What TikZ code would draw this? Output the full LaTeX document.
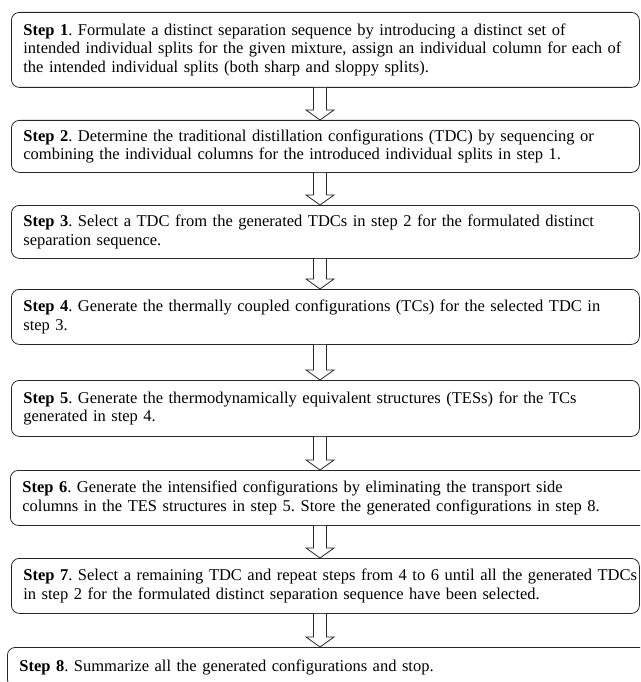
\documentclass[tikz,border=0pt]{standalone}
\usepackage{fontspec}
\setmainfont{Liberation Serif}
\usepackage{tikz}
\usetikzlibrary{calc}
\frenchspacing

% hollow block arrow from the bottom of one step to the top of the next
\newcommand{\steparrow}[2]{%
    \draw[harrow] ($(#1.south -| axis)+(-6.5,0)$) -- ($(#2.north -| axis)+(-6.5,-10)$)
        -- ($(#2.north -| axis)+(-14,-10)$) -- (#2.north -| axis)
        -- ($(#2.north -| axis)+(14,-10)$) -- ($(#2.north -| axis)+(6.5,-10)$)
        -- ($(#1.south -| axis)+(6.5,0)$);}

\begin{document}
\begin{tikzpicture}[
    x=1pt, y=-1pt,
    every node/.style={font=\fontsize{16.5}{18.5}\selectfont},
    stepbox/.style={draw=black!85, line width=0.8pt, rounded corners=8pt,
                    anchor=north west, align=left, text width=604pt,
                    inner xsep=12pt, inner ysep=0pt},
    harrow/.style={draw=black!85, line width=0.8pt, fill=white, line join=miter}
]
    \useasboundingbox (0,0) rectangle (640,682);
    \clip (0,0) rectangle (640,682);
    \coordinate (axis) at (320,0);

    % Steps
    \node[stepbox, minimum height=75pt] (s1) at (11,12)
        {\textbf{Step 1}. Formulate a distinct separation sequence by introducing a distinct set of\\
         intended individual splits for the given mixture, assign an individual column for each of\\
         the intended individual splits (both sharp and sloppy splits).};
    \node[stepbox, minimum height=52pt] (s2) at (11,120)
        {\textbf{Step 2}. Determine the traditional distillation configurations (TDC) by sequencing or\\
         combining the individual columns for the introduced individual splits in step 1.};
    \node[stepbox, minimum height=53pt] (s3) at (11,205)
        {\textbf{Step 3}. Select a TDC from the generated TDCs in step 2 for the formulated distinct\\
         separation sequence.};
    \node[stepbox, minimum height=55pt] (s4) at (11,289)
        {\textbf{Step 4}. Generate the thermally coupled configurations (TCs) for the selected TDC in\\
         step 3.};
    \node[stepbox, minimum height=56pt] (s5) at (11,380)
        {\textbf{Step 5}. Generate the thermodynamically equivalent structures (TESs) for the TCs\\
         generated in step 4.};
    \node[stepbox, minimum height=55pt, text width=616pt] (s6) at (10,470)
        {\textbf{Step 6}. Generate the intensified configurations by eliminating the transport side\\
         columns in the TES structures in step 5. Store the generated configurations in step 8.};
    \node[stepbox, minimum height=55pt] (s7) at (11,558)
        {\mbox{\textbf{Step 7}. Select a remaining TDC and repeat steps from 4 to 6 until all the generated TDCs}\\
         in step 2 for the formulated distinct separation sequence have been selected.};
    \node[stepbox, minimum height=40pt, text width=616pt] (s8) at (7,647)
        {\textbf{Step 8}. Summarize all the generated configurations and stop.};

    % Arrows
    \steparrow{s1}{s2}
    \steparrow{s2}{s3}
    \steparrow{s3}{s4}
    \steparrow{s4}{s5}
    \steparrow{s5}{s6}
    \steparrow{s6}{s7}
    \steparrow{s7}{s8}
\end{tikzpicture}
\end{document}
